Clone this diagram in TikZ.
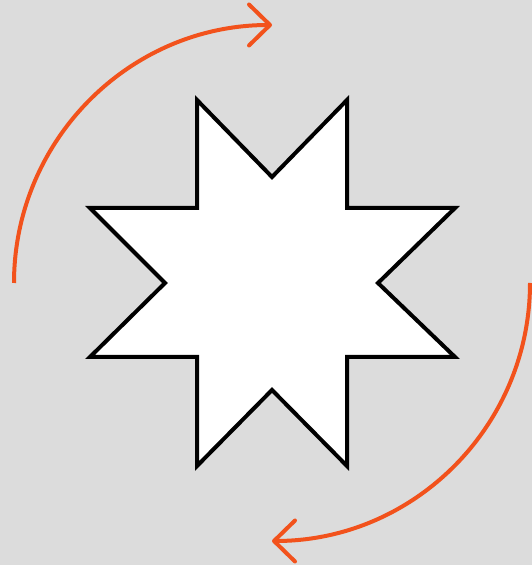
\documentclass[tikz,border=0pt]{standalone}
\usetikzlibrary{arrows.meta}
\definecolor{bg}{RGB}{220,220,220}
\definecolor{orng}{RGB}{242,82,28}
\tikzset{
  star/.style={draw=black, fill=white, line width=4pt, line join=miter},
  turn/.style={draw=orng, line width=4pt, -{Straight Barb[length=21pt,width=41pt,round]}}
}
\begin{document}
\begin{tikzpicture}[x=1pt,y=1pt]
\fill[bg] (0,0) rectangle (532,565);
\useasboundingbox (0,0) rectangle (532,565);
\coordinate (c) at (272,282);
\draw[star] (197,465) -- (272,388) -- (347,465) -- (347,357) -- (455,357) -- (378,282)
  -- (455,208) -- (347,208) -- (347,99) -- (272,175) -- (197,99) -- (197,208)
  -- (90,208) -- (165,282) -- (90,357) -- (197,357) -- cycle;
\draw[turn] (14,282) arc[start angle=180, end angle=90, radius=258];
\draw[turn] (530,282) arc[start angle=0, end angle=-90, radius=258];
\end{tikzpicture}
\end{document}
